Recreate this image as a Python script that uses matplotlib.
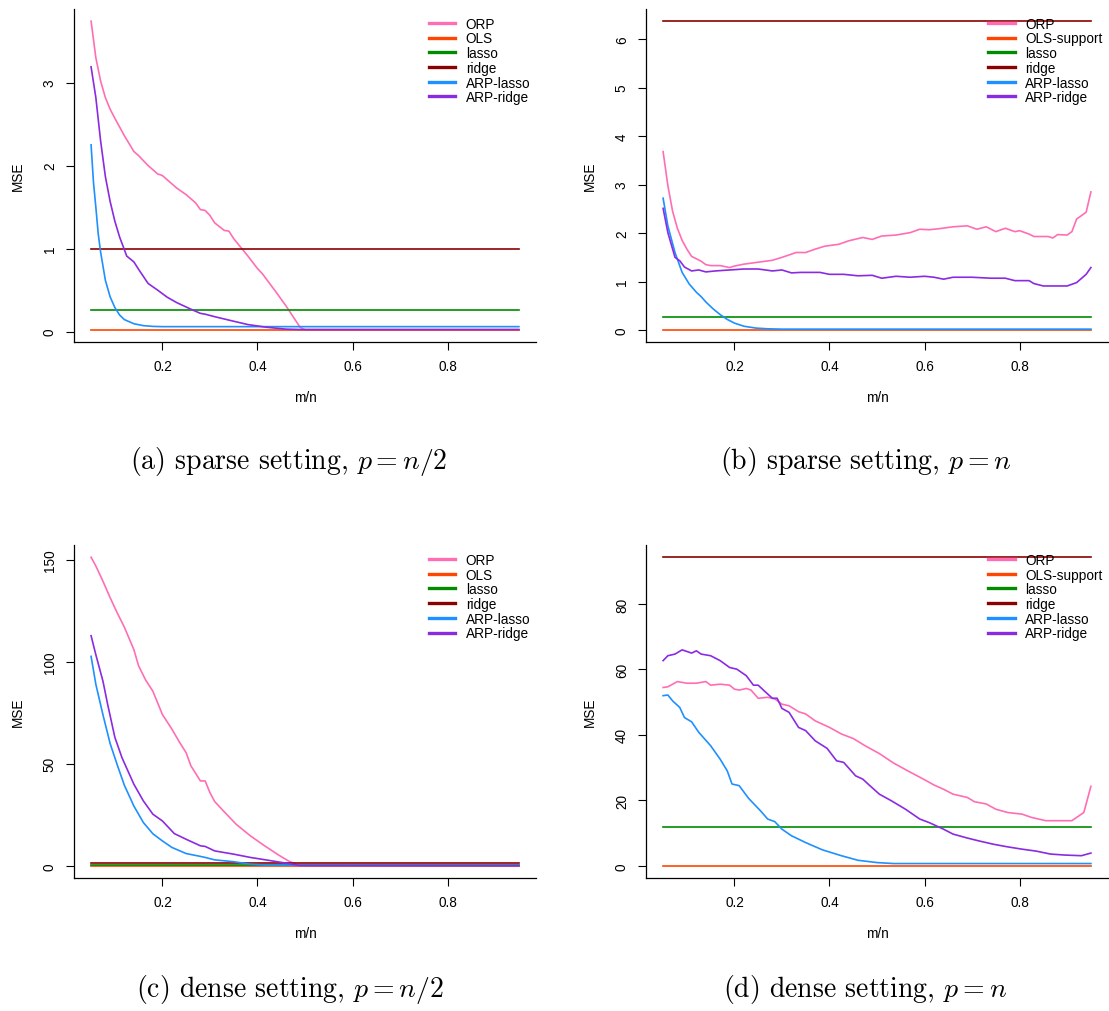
#!/usr/bin/env python3
# -*- coding: utf-8 -*-

import matplotlib
matplotlib.use('Agg')
import matplotlib.pyplot as plt
from matplotlib.lines import Line2D

# range of m/n used for the constant (non-projected) estimators
M_RANGE = [0.05, 0.95]

LABELS_A = ['ORP', 'OLS', 'lasso', 'ridge', 'ARP-lasso', 'ARP-ridge']
LABELS_B = ['ORP', 'OLS-support', 'lasso', 'ridge', 'ARP-lasso', 'ARP-ridge']
COLORS = ['#FF6EB4', '#FF4500', '#008B00', '#8B0000', '#1E90FF', '#8A2BE2']
XTICKS = [0.2, 0.4, 0.6, 0.8]

# ---- (a) sparse, p = n/2
a_orp_x = [0.05, 0.06, 0.07, 0.08, 0.09, 0.10, 0.12, 0.14, 0.15, 0.17, 0.19,
           0.20, 0.21, 0.23, 0.25, 0.27, 0.28, 0.29, 0.30, 0.31, 0.33, 0.34,
           0.35, 0.37, 0.38, 0.40, 0.41, 0.44, 0.46, 0.49, 0.50, 0.95]
a_orp_y = [3.74, 3.30, 3.02, 2.82, 2.68, 2.57, 2.36, 2.17, 2.12, 2.00, 1.90,
           1.88, 1.83, 1.73, 1.65, 1.55, 1.47, 1.46, 1.40, 1.31, 1.22, 1.21,
           1.12, 0.98, 0.91, 0.76, 0.70, 0.47, 0.31, 0.05, 0.024, 0.024]
a_alasso_x = [0.05, 0.055, 0.06, 0.065, 0.07, 0.08, 0.09, 0.10, 0.11, 0.12,
              0.14, 0.16, 0.18, 0.20, 0.95]
a_alasso_y = [2.25, 1.80, 1.50, 1.18, 0.96, 0.62, 0.42, 0.29, 0.20, 0.145,
              0.095, 0.072, 0.063, 0.06, 0.06]
a_aridge_x = [0.05, 0.06, 0.07, 0.08, 0.09, 0.10, 0.11, 0.125, 0.14, 0.15,
              0.17, 0.19, 0.21, 0.23, 0.26, 0.28, 0.29, 0.31, 0.35, 0.38,
              0.42, 0.46, 0.49, 0.95]
a_aridge_y = [3.19, 2.82, 2.30, 1.87, 1.57, 1.33, 1.14, 0.91, 0.84, 0.75,
              0.58, 0.50, 0.415, 0.35, 0.27, 0.22, 0.21, 0.18, 0.125, 0.085,
              0.052, 0.03, 0.025, 0.025]
a_ols, a_lasso, a_ridge = 0.024, 0.266, 1.0

# ---- (b) sparse, p = n
b_orp_x = [0.05, 0.06, 0.07, 0.08, 0.09, 0.10, 0.11, 0.12, 0.13, 0.14, 0.15,
           0.17, 0.19, 0.20, 0.22, 0.25, 0.28, 0.30, 0.33, 0.35, 0.37, 0.39,
           0.42, 0.44, 0.47, 0.49, 0.51, 0.54, 0.57, 0.59, 0.61, 0.63, 0.66,
           0.69, 0.71, 0.73, 0.75, 0.77, 0.79, 0.80, 0.82, 0.83, 0.86, 0.87,
           0.88, 0.90, 0.91, 0.92, 0.94, 0.95]
b_orp_y = [3.68, 2.98, 2.45, 2.10, 1.85, 1.67, 1.52, 1.47, 1.42, 1.35, 1.33,
           1.33, 1.29, 1.32, 1.36, 1.40, 1.44, 1.50, 1.60, 1.60, 1.67, 1.73,
           1.77, 1.84, 1.91, 1.87, 1.94, 1.96, 2.01, 2.08, 2.07, 2.09, 2.13,
           2.15, 2.08, 2.13, 2.03, 2.10, 2.03, 2.05, 1.98, 1.93, 1.93, 1.90,
           1.97, 1.96, 2.03, 2.29, 2.43, 2.85]
b_alasso_x = [0.05, 0.06, 0.075, 0.09, 0.105, 0.12, 0.13, 0.14, 0.155, 0.17,
              0.185, 0.20, 0.22, 0.245, 0.27, 0.30, 0.95]
b_alasso_y = [2.72, 2.15, 1.60, 1.19, 0.95, 0.78, 0.69, 0.58, 0.44, 0.32,
              0.22, 0.145, 0.08, 0.042, 0.027, 0.02, 0.02]
b_aridge_x = [0.05, 0.06, 0.075, 0.085, 0.095, 0.11, 0.125, 0.14, 0.16, 0.19,
              0.22, 0.25, 0.28, 0.30, 0.32, 0.34, 0.38, 0.40, 0.43, 0.46,
              0.49, 0.51, 0.54, 0.57, 0.60, 0.62, 0.64, 0.66, 0.70, 0.74,
              0.77, 0.79, 0.82, 0.83, 0.85, 0.88, 0.90, 0.92, 0.94, 0.95]
b_aridge_y = [2.51, 2.01, 1.50, 1.43, 1.30, 1.22, 1.24, 1.20, 1.22, 1.24,
              1.26, 1.26, 1.22, 1.24, 1.18, 1.19, 1.19, 1.15, 1.15, 1.12,
              1.13, 1.07, 1.11, 1.09, 1.11, 1.09, 1.05, 1.09, 1.09, 1.07,
              1.07, 1.02, 1.02, 0.96, 0.91, 0.91, 0.91, 0.98, 1.15, 1.29]
b_ols, b_lasso, b_ridge = 0.01, 0.28, 6.37

# ---- (c) dense, p = n/2
c_orp_x = [0.05, 0.06, 0.075, 0.09, 0.105, 0.12, 0.14, 0.15, 0.165, 0.18,
           0.20, 0.22, 0.235, 0.25, 0.26, 0.27, 0.28, 0.29, 0.30, 0.31, 0.33,
           0.355, 0.385, 0.415, 0.445, 0.465, 0.485, 0.95]
c_orp_y = [151.3, 147.0, 139.5, 131.5, 124.0, 117.0, 106.0, 98.0, 91.0, 85.6,
           74.2, 67.0, 61.0, 55.4, 49.0, 45.3, 41.6, 41.6, 35.9, 31.5, 26.5,
           20.4, 14.7, 9.8, 5.2, 2.4, 0.3, 0.05]
c_alasso_x = [0.05, 0.06, 0.075, 0.09, 0.105, 0.12, 0.14, 0.16, 0.18, 0.20,
              0.22, 0.25, 0.28, 0.29, 0.31, 0.35, 0.385, 0.42, 0.95]
c_alasso_y = [102.7, 89.0, 74.0, 60.0, 49.5, 39.5, 29.3, 21.2, 15.7, 12.2,
              9.0, 6.0, 4.6, 4.1, 2.9, 2.0, 0.8, 0.3, 0.2]
c_aridge_x = [0.05, 0.06, 0.075, 0.085, 0.10, 0.115, 0.14, 0.16, 0.18, 0.20,
              0.225, 0.25, 0.28, 0.29, 0.31, 0.35, 0.385, 0.42, 0.46, 0.49,
              0.95]
c_aridge_y = [112.8, 103.5, 90.5, 79.0, 63.0, 53.0, 40.0, 31.8, 25.3, 22.0,
              15.8, 13.0, 9.8, 9.5, 7.3, 5.7, 4.1, 2.8, 1.3, 0.1, 0.05]
c_ols, c_lasso, c_ridge = 0.05, 0.45, 1.4

# ---- (d) dense, p = n
d_orp_x = [0.05, 0.06, 0.08, 0.10, 0.12, 0.14, 0.15, 0.17, 0.19, 0.20, 0.21,
           0.225, 0.235, 0.25, 0.27, 0.285, 0.30, 0.315, 0.335, 0.35, 0.37,
           0.40, 0.425, 0.45, 0.475, 0.505, 0.535, 0.565, 0.595, 0.62, 0.64,
           0.66, 0.69, 0.705, 0.73, 0.75, 0.775, 0.805, 0.825, 0.855, 0.88,
           0.91, 0.92, 0.935, 0.94, 0.95]
d_orp_y = [54.5, 54.7, 56.3, 55.8, 55.8, 56.3, 55.2, 55.5, 55.2, 54.0, 53.7,
           54.2, 53.7, 51.2, 51.5, 51.0, 49.4, 48.9, 47.1, 46.4, 44.3,
           42.3, 40.3, 38.9, 36.7, 34.3, 31.4, 29.0, 26.7, 24.7, 23.4,
           21.9, 20.9, 19.6, 18.9, 17.3, 16.3, 15.8, 14.8, 13.8, 13.8,
           13.8, 14.8, 16.3, 18.9, 24.3]
d_alasso_x = [0.05, 0.06, 0.07, 0.085, 0.095, 0.11, 0.125, 0.15, 0.17, 0.185,
              0.195, 0.21, 0.23, 0.255, 0.27, 0.285, 0.30, 0.32, 0.35, 0.385,
              0.425, 0.46, 0.50, 0.535, 0.95]
d_alasso_y = [52.0, 52.2, 50.4, 48.4, 45.3, 44.0, 40.8, 36.7, 32.6, 29.0,
              25.0, 24.5, 20.6, 16.8, 14.3, 13.5, 11.2, 9.2, 7.1, 4.9,
              3.1, 1.7, 1.0, 0.7, 0.7]
d_aridge_x = [0.05, 0.06, 0.075, 0.09, 0.11, 0.12, 0.13, 0.15, 0.17, 0.19,
              0.205, 0.225, 0.24, 0.25, 0.27, 0.28, 0.29, 0.30, 0.315, 0.335,
              0.35, 0.37, 0.395, 0.415, 0.43, 0.455, 0.47, 0.485, 0.505, 0.53,
              0.56, 0.59, 0.61, 0.64, 0.66, 0.69, 0.715, 0.745, 0.775, 0.805,
              0.835, 0.865, 0.895, 0.93, 0.95]
d_aridge_y = [62.7, 64.2, 64.7, 66.0, 65.0, 65.7, 64.7, 64.2, 62.7, 60.6,
              60.1, 58.1, 55.2, 55.2, 52.5, 51.2, 51.2, 48.1, 46.9, 42.3,
              41.3, 38.2, 35.9, 32.1, 31.6, 27.5, 26.5, 24.5, 21.9, 19.9,
              17.3, 14.3, 13.2, 11.2, 9.7, 8.5, 7.6, 6.6, 5.8, 5.1,
              4.5, 3.6, 3.3, 3.1, 3.9]
d_ols, d_lasso, d_ridge = 0.05, 11.8, 94.3

CAPTIONS = ['(a) sparse setting, $p = n/2$', '(b) sparse setting, $p = n$',
            '(c) dense setting, $p = n/2$', '(d) dense setting, $p = n$']

FS = 9.8


def draw_panel(ax, orp, alasso, aridge, consts, labels, yticks):
    ax.plot(orp[0], orp[1], color=COLORS[0], lw=1.2)
    for val, col in zip(consts, COLORS[1:4]):
        ax.plot(M_RANGE, [val, val], color=col, lw=1.2)
    ax.plot(alasso[0], alasso[1], color=COLORS[4], lw=1.2)
    ax.plot(aridge[0], aridge[1], color=COLORS[5], lw=1.2)
    ax.margins(x=0.04, y=0.04)

    for side in ['top', 'right']:
        ax.spines[side].set_visible(False)
    for side in ['left', 'bottom']:
        ax.spines[side].set_linewidth(0.9)
    ax.set_xticks(XTICKS)
    ax.set_xticklabels([str(t) for t in XTICKS])
    ax.set_yticks(yticks)
    ax.set_yticklabels([str(t) for t in yticks], rotation=90, va='center')
    ax.tick_params(direction='out', length=5.8, width=0.8, pad=6.5,
                   labelsize=FS)

    ax.set_xlabel('m/n', fontsize=FS)
    ax.xaxis.set_label_coords(0.5, -0.165)
    ax.xaxis.label.set_va('center')
    ax.set_ylabel('MSE', fontsize=FS)
    ax.yaxis.set_label_coords(-0.121, 0.5)
    ax.yaxis.label.set_va('center')

    handles = [Line2D([], [], color=c, lw=2.4) for c in COLORS]
    ax.legend(handles, labels, loc='upper right', bbox_to_anchor=(0.988, 0.976),
              frameon=False, fontsize=FS, handlelength=1.95,
              handletextpad=0.78, labelspacing=0.05, borderpad=0,
              borderaxespad=0)


def main():
    plt.rcParams['font.family'] = ['Liberation Sans', 'DejaVu Sans']
    plt.rcParams['mathtext.fontset'] = 'cm'
    fig = plt.figure(figsize=(11.09, 10.12), dpi=100)

    w, h = 0.4166, 0.3292
    ax_a = fig.add_axes([0.0667, 0.6611, w, h])
    ax_b = fig.add_axes([0.5825, 0.6611, w, h])
    ax_c = fig.add_axes([0.0667, 0.1314, w, h])
    ax_d = fig.add_axes([0.5825, 0.1314, w, h])

    draw_panel(ax_a, (a_orp_x, a_orp_y), (a_alasso_x, a_alasso_y),
               (a_aridge_x, a_aridge_y), (a_ols, a_lasso, a_ridge),
               LABELS_A, [0, 1, 2, 3])
    draw_panel(ax_b, (b_orp_x, b_orp_y), (b_alasso_x, b_alasso_y),
               (b_aridge_x, b_aridge_y), (b_ols, b_lasso, b_ridge),
               LABELS_B, [0, 1, 2, 3, 4, 5, 6])
    draw_panel(ax_c, (c_orp_x, c_orp_y), (c_alasso_x, c_alasso_y),
               (c_aridge_x, c_aridge_y), (c_ols, c_lasso, c_ridge),
               LABELS_A, [0, 50, 100, 150])
    draw_panel(ax_d, (d_orp_x, d_orp_y), (d_alasso_x, d_alasso_y),
               (d_aridge_x, d_aridge_y), (d_ols, d_lasso, d_ridge),
               LABELS_B, [0, 20, 40, 60, 80])

    cap_pos = [(0.2606, 0.5438), (0.781, 0.5438), (0.2615, 0.022),
               (0.780, 0.022)]
    for (x, y), txt in zip(cap_pos, CAPTIONS):
        fig.text(x, y, txt, ha='center', va='center', fontsize=20,
                 family='cmr10')

    fig.savefig('out.png', dpi=100)


if __name__ == "__main__":
    main()
